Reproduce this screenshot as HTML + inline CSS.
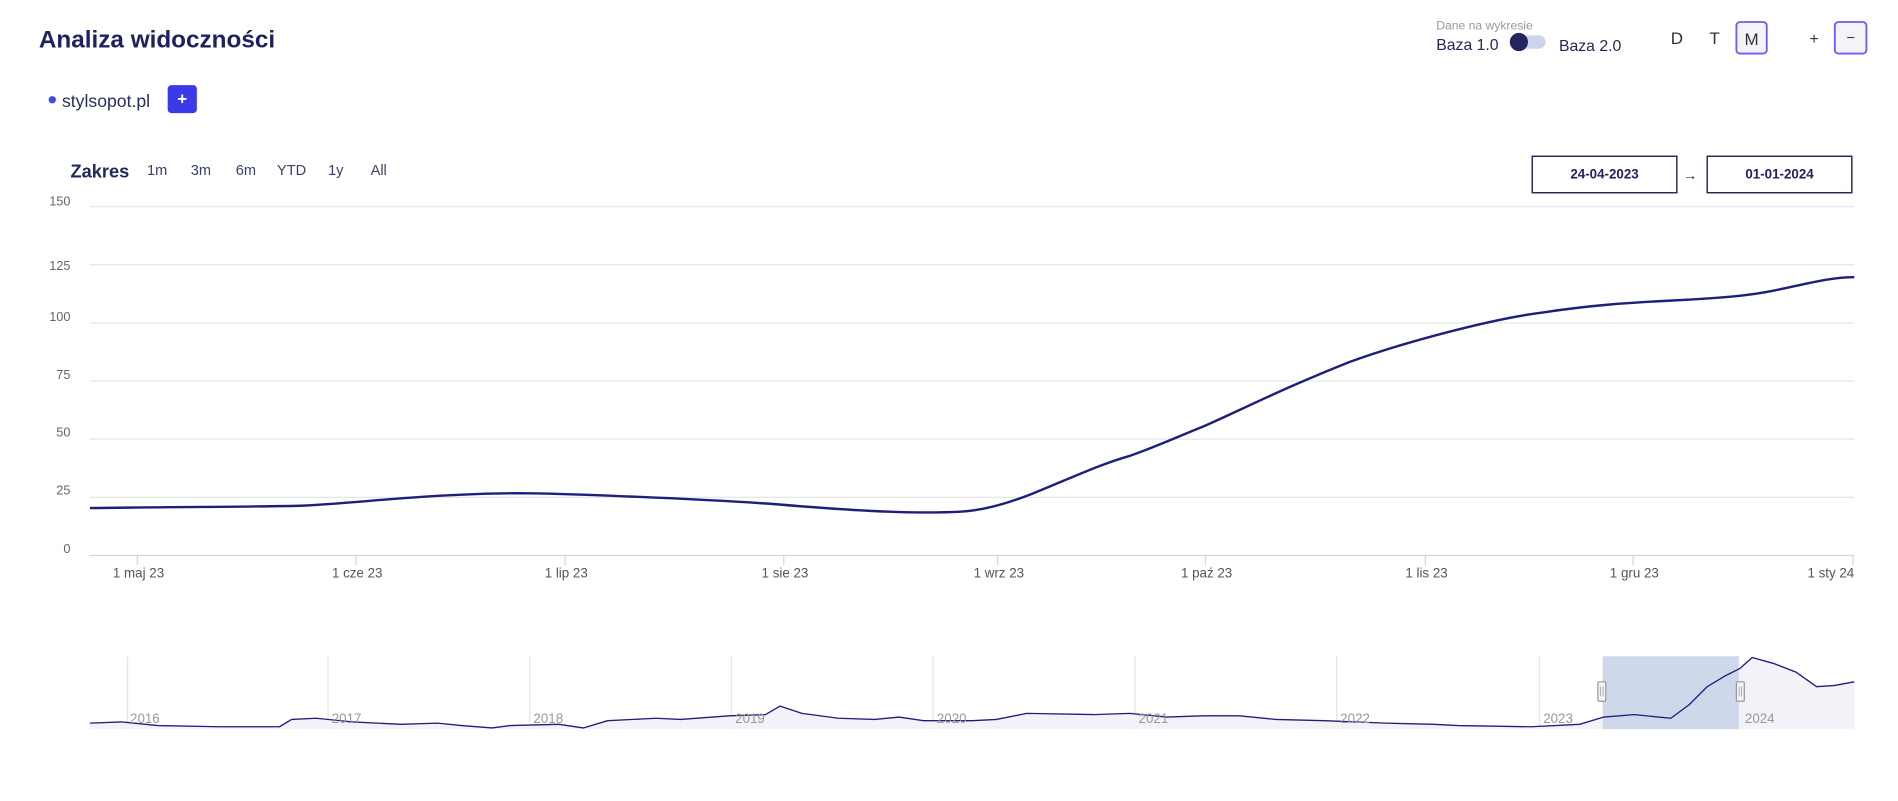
<!DOCTYPE html>
<html><head><meta charset="utf-8"><style>
html,body{margin:0;padding:0;background:#fff;width:1898px;height:801px;overflow:hidden}
svg{display:block}
text{font-family:"Liberation Sans",sans-serif}
</style></head><body>
<svg width="1898" height="801" viewBox="0 0 1562 659" xmlns="http://www.w3.org/2000/svg">
<rect width="1562" height="659" fill="#fff"/>
<text x="32" y="39" font-size="20" font-weight="bold" fill="#1f2260">Analiza widoczności</text>
<circle cx="43" cy="82" r="3" fill="#3b4ae8"/>
<text x="51" y="88" font-size="14.5" fill="#2a2d5c">stylsopot.pl</text>
<rect x="138" y="70" width="24" height="23" rx="3" fill="#3a3ae8"/>
<text x="150" y="86" font-size="14" font-weight="bold" fill="#fff" text-anchor="middle">+</text>

<text x="1182" y="24" font-size="10" fill="#999">Dane na wykresie</text>
<text x="1182" y="41" font-size="13" fill="#23285c">Baza 1.0</text>
<rect x="1245" y="29" width="27" height="11" rx="5.5" fill="#cdd3ea"/>
<circle cx="1250" cy="34.5" r="7.5" fill="#22255e"/>
<text x="1283" y="42" font-size="13" fill="#23285c">Baza 2.0</text>
<text x="1380" y="36" font-size="14" fill="#333" text-anchor="middle">D</text>
<text x="1411" y="36" font-size="14" fill="#333" text-anchor="middle">T</text>
<rect x="1429" y="18" width="25" height="26" rx="3" fill="#f3f3f8" stroke="#6b5ef0" stroke-width="1.5"/>
<text x="1441.5" y="37" font-size="14" fill="#333" text-anchor="middle">M</text>
<text x="1493" y="36" font-size="13" fill="#333" text-anchor="middle">+</text>
<rect x="1510" y="18" width="26" height="26" rx="3" fill="#f3f3f8" stroke="#6b5ef0" stroke-width="1.5"/>
<text x="1523" y="35" font-size="12" fill="#333" text-anchor="middle">−</text>

<text x="58" y="146" font-size="15" font-weight="bold" fill="#23285c">Zakres</text>
<g font-size="12" fill="#3a3f70">
<text x="121" y="144">1m</text><text x="157" y="144">3m</text><text x="194" y="144">6m</text>
<text x="228" y="144">YTD</text><text x="270" y="144">1y</text><text x="305" y="144">All</text></g>
<rect x="1261" y="128.5" width="119" height="30" fill="#fff" stroke="#23285c" stroke-width="1.2"/>
<text x="1320.5" y="147" font-size="11" font-weight="bold" fill="#1f2260" text-anchor="middle">24-04-2023</text>
<text x="1391" y="148" font-size="12" fill="#23285c" text-anchor="middle">→</text>
<rect x="1405" y="128.5" width="119" height="30" fill="#fff" stroke="#23285c" stroke-width="1.2"/>
<text x="1464.5" y="147" font-size="11" font-weight="bold" fill="#1f2260" text-anchor="middle">01-01-2024</text>

<g stroke="#e6e6e6" stroke-width="1">
<line x1="74" x2="1526" y1="170" y2="170"/><line x1="74" x2="1526" y1="217.8" y2="217.8"/>
<line x1="74" x2="1526" y1="265.7" y2="265.7"/><line x1="74" x2="1526" y1="313.5" y2="313.5"/>
<line x1="74" x2="1526" y1="361.3" y2="361.3"/><line x1="74" x2="1526" y1="409.2" y2="409.2"/></g>
<line x1="74" x2="1526" y1="457" y2="457" stroke="#ccd6eb"/>
<g font-size="10.5" fill="#666" text-anchor="end">
<text x="58" y="169">150</text><text x="58" y="222">125</text><text x="58" y="264">100</text>
<text x="58" y="312">75</text><text x="58" y="359">50</text><text x="58" y="407">25</text><text x="58" y="455">0</text></g>
<g stroke="#ccd6eb">
<line x1="113" x2="113" y1="457" y2="465"/><line x1="293" x2="293" y1="457" y2="465"/>
<line x1="465" x2="465" y1="457" y2="465"/><line x1="645" x2="645" y1="457" y2="465"/>
<line x1="821" x2="821" y1="457" y2="465"/><line x1="992" x2="992" y1="457" y2="465"/>
<line x1="1173" x2="1173" y1="457" y2="465"/><line x1="1344" x2="1344" y1="457" y2="465"/>
<line x1="1525" x2="1525" y1="457" y2="465"/></g>
<g font-size="11" fill="#555" text-anchor="middle">
<text x="114" y="475">1 maj 23</text><text x="294" y="475">1 cze 23</text><text x="466" y="475">1 lip 23</text>
<text x="646" y="475">1 sie 23</text><text x="822" y="475">1 wrz 23</text><text x="993" y="475">1 paź 23</text>
<text x="1174" y="475">1 lis 23</text><text x="1345" y="475">1 gru 23</text><text x="1526" y="475" text-anchor="end">1 sty 24</text></g>
<path d="M74,418 C150,417 220,417 250,416 C290,414 330,409 380,407 C420,405 450,406 480,407 C560,410 600,412 640,415 C700,420 750,423 790,421 C810,420 830,414 850,406 C880,394 905,382 930,375 C950,368 970,359 990,351 C1020,338 1050,322 1110,298 C1160,280 1230,262 1270,257 C1310,251 1340,249 1380,247 C1420,245 1440,243 1460,239 C1485,234 1505,228 1526,228" fill="none" stroke="#1e1f7a" stroke-width="2"/>

<g stroke="#e4e4e4"><line x1="105" x2="105" y1="540" y2="600"/><line x1="270" x2="270" y1="540" y2="600"/>
<line x1="436" x2="436" y1="540" y2="600"/><line x1="602" x2="602" y1="540" y2="600"/>
<line x1="768" x2="768" y1="540" y2="600"/><line x1="934" x2="934" y1="540" y2="600"/>
<line x1="1100" x2="1100" y1="540" y2="600"/><line x1="1267" x2="1267" y1="540" y2="600"/></g>
<path d="M74,595 L100,594 130,597 180,598 230,598 240,592 260,591 290,594 330,596 360,595 380,597 405,599 420,597 460,596 480,599 500,593 540,591 560,592 600,589 630,588 642,581 660,587 690,591 720,592 740,590 760,593 800,593 820,592 845,587 900,588 930,587 960,590 990,589 1020,589 1050,592 1090,593 1140,595 1180,596 1200,597 1260,598 1280,597 1300,596 1320,590 1345,588 1375,591 1390,580 1405,565 1420,556 1432,550 1442,541 1460,546 1478,553 1495,565 1510,564 1526,561 L1526,600 L74,600 Z" fill="#f2f2f8"/>
<rect x="1319" y="540" width="112" height="60" fill="#cfd8ea"/>
<path d="M74,595 L100,594 130,597 180,598 230,598 240,592 260,591 290,594 330,596 360,595 380,597 405,599 420,597 460,596 480,599 500,593 540,591 560,592 600,589 630,588 642,581 660,587 690,591 720,592 740,590 760,593 800,593 820,592 845,587 900,588 930,587 960,590 990,589 1020,589 1050,592 1090,593 1140,595 1180,596 1200,597 1260,598 1280,597 1300,596 1320,590 1345,588 1375,591 1390,580 1405,565 1420,556 1432,550 1442,541 1460,546 1478,553 1495,565 1510,564 1526,561" fill="none" stroke="#1e1f7a" stroke-width="1.1" stroke-linejoin="round"/>
<g font-size="11" fill="#999">
<text x="107" y="595">2016</text><text x="273" y="595">2017</text><text x="439" y="595">2018</text>
<text x="605" y="595">2019</text><text x="771" y="595">2020</text><text x="937" y="595">2021</text>
<text x="1103" y="595">2022</text><text x="1270" y="595">2023</text><text x="1436" y="595">2024</text></g>
<g fill="#f2f2f2" stroke="#999"><rect x="1315" y="561" width="6.5" height="16" rx="1"/><rect x="1429" y="561" width="6.5" height="16" rx="1"/></g>
<g stroke="#999" stroke-width="0.6"><line x1="1317.3" x2="1317.3" y1="565" y2="573"/><line x1="1319.3" x2="1319.3" y1="565" y2="573"/>
<line x1="1431.3" x2="1431.3" y1="565" y2="573"/><line x1="1433.3" x2="1433.3" y1="565" y2="573"/></g>
</svg>
</body></html>
